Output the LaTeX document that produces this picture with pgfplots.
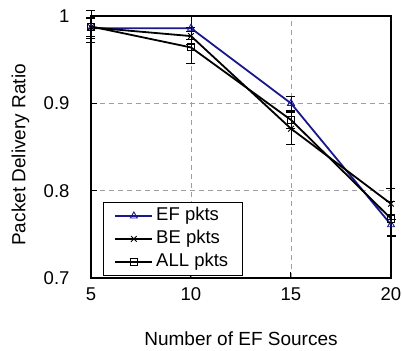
\documentclass[border=0pt]{standalone}
\usepackage{pgfplots}
\pgfplotsset{compat=1.18}
\usetikzlibrary{calc}
\usepackage{fontspec}
\setmainfont{Liberation Sans}
\definecolor{efblue}{RGB}{25,25,140}
\begin{document}
\begin{tikzpicture}
\begin{axis}[
  name=ax,
  scale only axis,
  width=300pt, height=262pt,
  xmin=5, xmax=20, ymin=0.7, ymax=1,
  xtick={5,10,15,20}, ytick={0.7,0.8,0.9,1},
  yticklabels={0.7,0.8,0.9,1},
  /pgf/number format/assume math mode=true,
  tick label style={font=\fontsize{18.5}{21}\selectfont},
  label style={font=\fontsize{19}{22}\selectfont},
  xlabel={Number of EF Sources},
  ylabel={Packet Delivery Ratio},
  xlabel style={at={(axis description cs:0.5,0)}, anchor=north, yshift=-50pt},
  ylabel style={at={(axis description cs:-0.235,0.47)}, anchor=center},
  xticklabel style={yshift=-6pt},
  yticklabel style={xshift=-18pt},
  tick pos=left,
  tick align=inside,
  major tick length=6pt,
  axis line style={line width=1.3pt},
  every tick/.style={black, line width=1pt},
  grid=major,
  major grid style={dash pattern=on 5pt off 4pt, gray!75, line width=0.8pt},
  legend style={at={(axis description cs:0.04,0.008)}, anchor=south west,
    font=\fontsize{18.5}{21}\selectfont,
    draw=black, line width=0.9pt, inner xsep=11pt, inner ysep=2pt, row sep=0pt,
    nodes={text height=13pt, text depth=4pt, inner sep=3pt}},
  legend cell align=left,
  legend image code/.code={
    \draw[#1] (0pt,0pt) -- (37pt,0pt);
    \draw[#1] plot coordinates {(18.5pt,0pt)};
  },
  clip=false,
]
\addplot[efblue, line width=1.8pt, mark=triangle, mark size=4pt,
  mark options={solid, line width=0.9pt, fill=white},
  error bars/.cd, y dir=both, y explicit,
  error bar style={black, line width=0.9pt}, error mark options={black, line width=0.9pt, rotate=90, mark size=4.5pt}]
  coordinates {
  (5,0.986) +- (0,0.012)
  (10,0.986) +- (0,0.013)
  (15,0.900) +- (0,0.008)
  (20,0.761) +- (0,0.012)
  };
\addlegendentry{EF pkts}
\addplot[black, line width=1.8pt, mark=x, mark size=4pt,
  mark options={solid, line width=0.9pt},
  error bars/.cd, y dir=both, y explicit,
  error bar style={black, line width=0.9pt}, error mark options={black, line width=0.9pt, rotate=90, mark size=4.5pt}]
  coordinates {
  (5,0.987) +- (0,0.010)
  (10,0.977) +- (0,0.010)
  (15,0.871) +- (0,0.018)
  (20,0.785) +- (0,0.018)
  };
\addlegendentry{BE pkts}
\addplot[black, line width=1.8pt, mark=square, mark size=3.5pt,
  mark options={solid, line width=0.9pt, fill=white},
  error bars/.cd, y dir=both, y explicit,
  error bar style={black, line width=0.9pt}, error mark options={black, line width=0.9pt, rotate=90, mark size=4.5pt}]
  coordinates {
  (5,0.988) +- (0,0.018)
  (10,0.964) +- (0,0.018)
  (15,0.881) +- (0,0.010)
  (20,0.768) +- (0,0.020)
  };
\addlegendentry{ALL pkts}
\end{axis}
\pgfresetboundingbox
\path[use as bounding box] ($(ax.south west)+(-91pt,-73pt)$) rectangle ($(ax.north east)+(11pt,16pt)$);
\end{tikzpicture}
\end{document}
